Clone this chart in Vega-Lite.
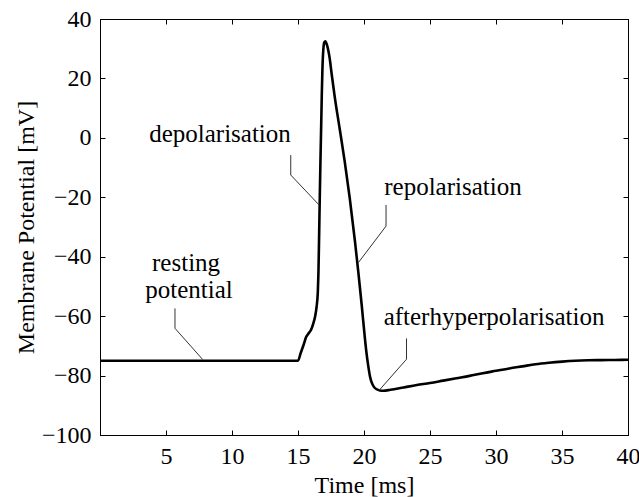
{
  "$schema": "https://vega.github.io/schema/vega-lite/v6.json",
  "width": 528,
  "height": 416,
  "autosize": {"type": "none"},
  "padding": {"left": 100, "top": 19, "right": 11, "bottom": 62},
  "background": "white",
  "config": {
    "view": {"stroke": "black", "strokeWidth": 1},
    "axis": {
      "domain": true,
      "domainColor": "#000000",
      "domainWidth": 1,
      "grid": false,
      "ticks": true,
      "tickColor": "#000000",
      "tickWidth": 1,
      "tickSize": -5,
      "labelFont": "Liberation Serif",
      "labelFontSize": 24,
      "labelColor": "black",
      "titleFont": "Liberation Serif",
      "titleFontSize": 24,
      "titleColor": "black",
      "titleFontWeight": "normal"
    }
  },
  "datasets": {
    "curve": [
      {"t": 0, "v": -75}, {"t": 15.0, "v": -75}, {"t": 15.2, "v": -72.5}, {"t": 15.45, "v": -69.3},
      {"t": 15.6, "v": -67.2}, {"t": 15.78, "v": -65.9}, {"t": 16.0, "v": -64.5}, {"t": 16.16, "v": -62.4},
      {"t": 16.3, "v": -60}, {"t": 16.41, "v": -56.8}, {"t": 16.5, "v": -52}, {"t": 16.55, "v": -45},
      {"t": 16.6, "v": -33}, {"t": 16.65, "v": -20}, {"t": 16.7, "v": -8}, {"t": 16.76, "v": 5},
      {"t": 16.8, "v": 14}, {"t": 16.85, "v": 23}, {"t": 16.92, "v": 29.8},
      {"t": 17.0, "v": 32.2}, {"t": 17.07, "v": 32.5}, {"t": 17.2, "v": 31.2}, {"t": 17.3, "v": 29.3},
      {"t": 17.4, "v": 26.8}, {"t": 17.55, "v": 21.5}, {"t": 17.78, "v": 13.9}, {"t": 18.16, "v": 3.0},
      {"t": 18.54, "v": -8.0}, {"t": 18.92, "v": -20.3}, {"t": 19.32, "v": -35.0}, {"t": 19.57, "v": -45.2},
      {"t": 19.82, "v": -56.0}, {"t": 20.08, "v": -68}, {"t": 20.2, "v": -72.8}, {"t": 20.33, "v": -77},
      {"t": 20.45, "v": -80.2}, {"t": 20.58, "v": -82.3}, {"t": 20.75, "v": -83.8}, {"t": 20.96, "v": -84.6},
      {"t": 21.2, "v": -85.0}, {"t": 21.46, "v": -85.1},
      {"t": 22, "v": -84.8}, {"t": 23, "v": -84.0}, {"t": 24, "v": -83.2}, {"t": 25, "v": -82.5},
      {"t": 26, "v": -81.7}, {"t": 27, "v": -80.9}, {"t": 28, "v": -80.1}, {"t": 29, "v": -79.2},
      {"t": 30, "v": -78.4}, {"t": 31, "v": -77.6}, {"t": 32, "v": -76.9}, {"t": 33, "v": -76.2},
      {"t": 34, "v": -75.7}, {"t": 35, "v": -75.3}, {"t": 36, "v": -75.0}, {"t": 37, "v": -74.85},
      {"t": 38, "v": -74.8}, {"t": 39, "v": -74.75}, {"t": 40, "v": -74.7}
    ],
    "leaders": [
      {"id": "dep", "k": 1, "t": 14.45, "v": -5.8}, {"id": "dep", "k": 2, "t": 14.45, "v": -12.5}, {"id": "dep", "k": 3, "t": 16.6, "v": -22.6},
      {"id": "rest", "k": 1, "t": 5.68, "v": -57.4}, {"id": "rest", "k": 2, "t": 5.68, "v": -64.1}, {"id": "rest", "k": 3, "t": 7.78, "v": -74.6},
      {"id": "rep", "k": 1, "t": 21.67, "v": -22.6}, {"id": "rep", "k": 2, "t": 21.67, "v": -29.7}, {"id": "rep", "k": 3, "t": 19.57, "v": -42},
      {"id": "ahp", "k": 1, "t": 23.22, "v": -67.5}, {"id": "ahp", "k": 2, "t": 23.22, "v": -74.5}, {"id": "ahp", "k": 3, "t": 21.16, "v": -84.9}
    ],
    "labels": [
      {"text": "depolarisation", "t": 9.09, "v": 1.3},
      {"text": "resting", "t": 6.52, "v": -42.1},
      {"text": "potential", "t": 6.74, "v": -51.2},
      {"text": "repolarisation", "t": 26.74, "v": -16.5},
      {"text": "afterhyperpolarisation", "t": 29.85, "v": -60.3}
    ]
  },
  "resolve": {"axis": {"x": "independent", "y": "independent"}},
  "layer": [
    {
      "data": {"name": "curve"},
      "mark": {"type": "line", "color": "black", "strokeWidth": 2.6, "interpolate": "monotone"},
      "encoding": {
        "x": {"field": "t", "type": "quantitative",
              "scale": {"domain": [0, 40], "nice": false, "zero": false},
              "axis": {"orient": "bottom", "values": [5, 10, 15, 20, 25, 30, 35, 40], "labelPadding": 14,
                       "labelBaseline": "top", "labelFlush": false, "labelOverlap": false,
                       "title": "Time [ms]", "titleX": 264, "titleY": 57, "titleAlign": "center", "titleBaseline": "alphabetic"}},
        "y": {"field": "v", "type": "quantitative",
              "scale": {"domain": [-100, 40], "nice": false, "zero": false},
              "axis": {"orient": "left", "values": [-100, -80, -60, -40, -20, 0, 20, 40], "labelPadding": 14,
                       "labelFlush": false, "labelOverlap": false,
                       "title": "Membrane Potential [mV]", "titleX": -67, "titleY": 208, "titleAngle": -90,
                       "titleAlign": "center", "titleBaseline": "alphabetic"}}
      }
    },
    {
      "data": {"name": "leaders"},
      "mark": {"type": "line", "color": "#333333", "strokeWidth": 1},
      "encoding": {
        "x": {"field": "t", "type": "quantitative",
              "axis": {"orient": "top", "values": [5, 10, 15, 20, 25, 30, 35, 40], "labels": false, "title": null}},
        "y": {"field": "v", "type": "quantitative",
              "axis": {"orient": "right", "values": [-100, -80, -60, -40, -20, 0, 20, 40], "labels": false, "title": null}},
        "detail": {"field": "id"},
        "order": {"field": "k"}
      }
    },
    {
      "data": {"name": "labels"},
      "mark": {"type": "text", "font": "Liberation Serif", "fontSize": 25, "color": "black", "align": "center", "baseline": "middle"},
      "encoding": {
        "x": {"field": "t", "type": "quantitative", "axis": null},
        "y": {"field": "v", "type": "quantitative", "axis": null},
        "text": {"field": "text"}
      }
    }
  ]
}
